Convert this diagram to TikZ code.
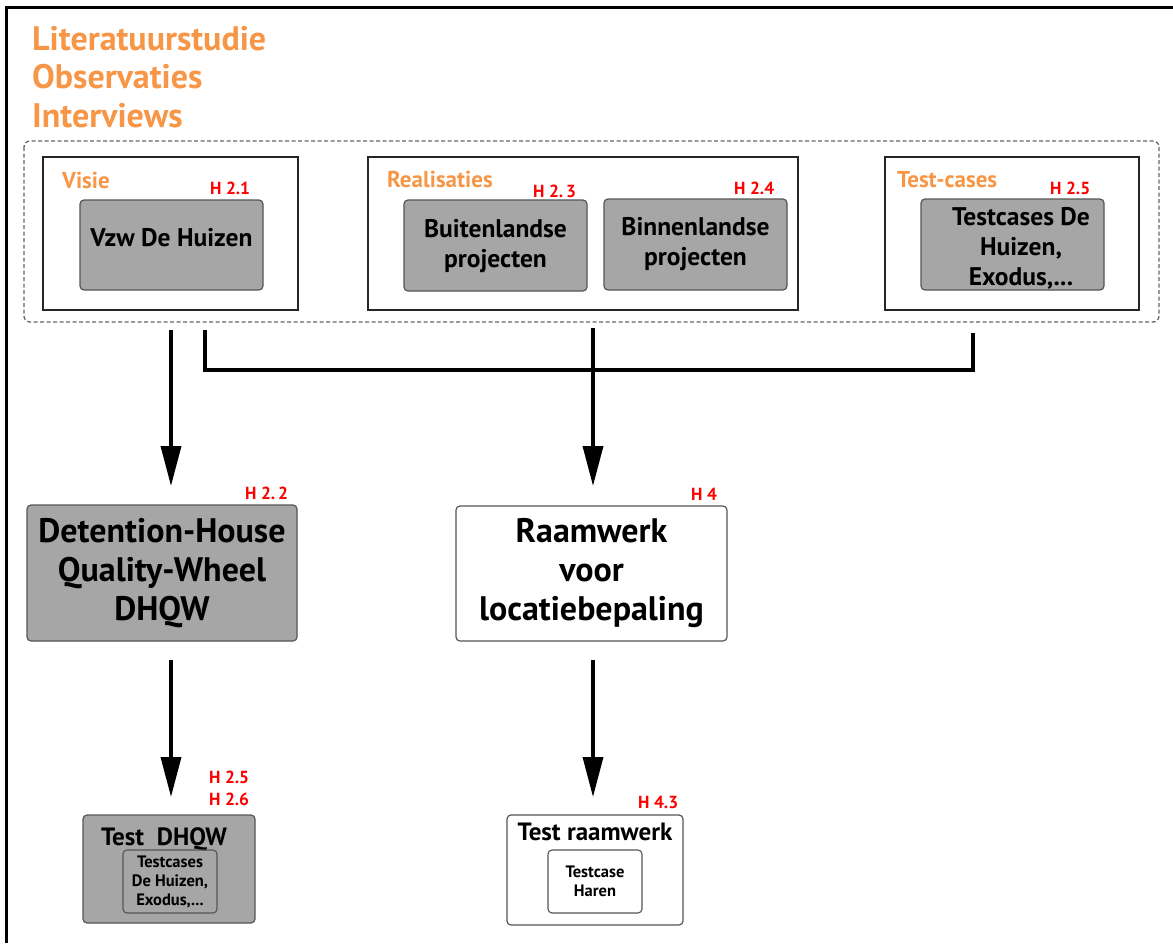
\documentclass[tikz,border=0pt]{standalone}
\usepackage{fontspec}
\setmainfont{PT Sans}
\usetikzlibrary{arrows.meta}
\definecolor{orng}{HTML}{F79646}
\definecolor{gfill}{HTML}{A6A6A6}
\definecolor{gline}{HTML}{555555}
\begin{document}
\begin{tikzpicture}[x=1pt,y=-1pt,
  ttl/.style={anchor=base west,inner sep=0pt,font=\bfseries\fontsize{34}{38}\selectfont,text=orng},
  lbl/.style={anchor=base west,inner sep=0pt,font=\bfseries\fontsize{23}{25}\selectfont,text=orng},
  ref/.style={anchor=base west,inner sep=0pt,font=\bfseries\fontsize{17.5}{20}\selectfont,text=red},
  grpbox/.style={draw=black!85,line width=1.8pt},
  graybox/.style={draw=gline,line width=1.2pt,fill=gfill,rounded corners=4pt},
  whitebox/.style={draw=gline,line width=1.2pt,fill=white,rounded corners=4pt},
  txt/.style={inner sep=0pt,align=center,font=\bfseries\fontsize{25.5}{30}\selectfont},
  bigtxt/.style={inner sep=0pt,align=center,font=\bfseries\fontsize{34}{39}\selectfont},
  intxt/.style={inner sep=0pt,align=center,font=\bfseries\fontsize{16.5}{19}\selectfont,draw=gline,line width=1.1pt,rounded corners=4pt,minimum width=94pt,minimum height=63pt},
  flow/.style={line width=3.5pt,-{Triangle[width=20pt,length=40pt]}},
  link/.style={line width=3.5pt}
]
\useasboundingbox (0,0) rectangle (1173,943);
% frame
\draw[line width=3pt] (6,943) -- (6,7) -- (1173,7);
% titles
\node[ttl] (t1) at (32,50) {Literatuurstudie};
\node[ttl] (t2) at (32,88) {Observaties};
\node[ttl] (t3) at (32,127) {Interviews};
% dashed container
\draw[black!60,dash pattern=on 4pt off 2.5pt,line width=1.3pt,rounded corners=6pt] (24,141) rectangle (1159,322);
% Visie
\draw[grpbox] (43,157) rectangle (298,310);
\node[lbl] (visie) at (62,188) {Visie};
\node[ref] (h21) at (210,194) {H 2.1};
\draw[graybox] (80,200) rectangle (263,290);
\node[txt] (vzw) at (171.5,238) {Vzw De Huizen};
% Realisaties
\draw[grpbox] (368,157) rectangle (798,310);
\node[lbl] (real) at (387,187) {Realisaties};
\node[ref] (h23) at (533,197) {H 2.\,3};
\draw[graybox] (404,200) rectangle (587,291);
\node[txt] (buit) at (495.5,246) {Buitenlandse\\projecten};
\node[ref] (h24) at (734,194) {H 2.4};
\draw[graybox] (604,199) rectangle (787,290);
\node[txt] (binn) at (695.5,244) {Binnenlandse\\projecten};
% Test-cases
\draw[grpbox] (885,157) rectangle (1139,310);
\node[lbl] (tc) at (897,187) {Test-cases};
\node[ref] (h25a) at (1050,194) {H 2.5};
\draw[graybox] (921,199) rectangle (1104,290);
\node[txt] (tch) at (1021,248) {Testcases De\\Huizen,\\Exodus,...};
% connector points
\coordinate (a1s) at (171,330);
\coordinate (a2s) at (593,328);
\coordinate (b1) at (205,330);
\coordinate (b2) at (205,370);
\coordinate (b3) at (973,370);
\coordinate (b4) at (973,333);
% DHQW
\node[bigtxt,draw=gline,line width=1.2pt,fill=gfill,rounded corners=4pt,minimum width=270pt,minimum height=136pt] (dhqw) at (162,573) {Detention-House\\Quality-Wheel\\DHQW};
\node[ref] (h22) at (245,499) {H 2.\,2};
% Raamwerk
\node[bigtxt,draw=gline,line width=1.2pt,fill=white,rounded corners=4pt,minimum width=271pt,minimum height=135pt] (raam) at (591.5,573.5) {Raamwerk\\voor\\locatiebepaling};
\node[ref] (h4) at (691,500) {H 4};
\coordinate (a1e) at (171,486);
\coordinate (a2e) at (593,486);
\draw[flow] (a1s) -- (a1e);
\draw[flow] (a2s) -- (a2e);
\draw[link,line join=miter] (b1) -- (b2) -- (b3) -- (b4);
% Test DHQW
\draw[graybox] (83,815) rectangle (255,923);
\node[anchor=base west,inner sep=0pt,font=\bfseries\fontsize{25}{27}\selectfont] (tdh) at (101,845) {Test\ \ DHQW};
\node[intxt] (tdin) at (170,881.5) {Testcases\\De Huizen,\\Exodus,...};
\node[ref] (h25b) at (209,783) {H 2.5};
\node[ref] (h26) at (209,805) {H 2.6};
% Test raamwerk
\draw[whitebox] (507,815) rectangle (683,925);
\node[anchor=base,inner sep=0pt,font=\bfseries\fontsize{25}{27}\selectfont] (trw) at (595,840) {Test raamwerk};
\node[intxt] (trin) at (595,881.5) {Testcase\\Haren};
\node[ref] (h43) at (638,808) {H 4.3};
\coordinate (c1s) at (171,660);
\coordinate (c1e) at (171,797);
\coordinate (c2s) at (593,660);
\coordinate (c2e) at (593,797);
\draw[flow] (c1s) -- (c1e);
\draw[flow] (c2s) -- (c2e);
\end{tikzpicture}
\end{document}
